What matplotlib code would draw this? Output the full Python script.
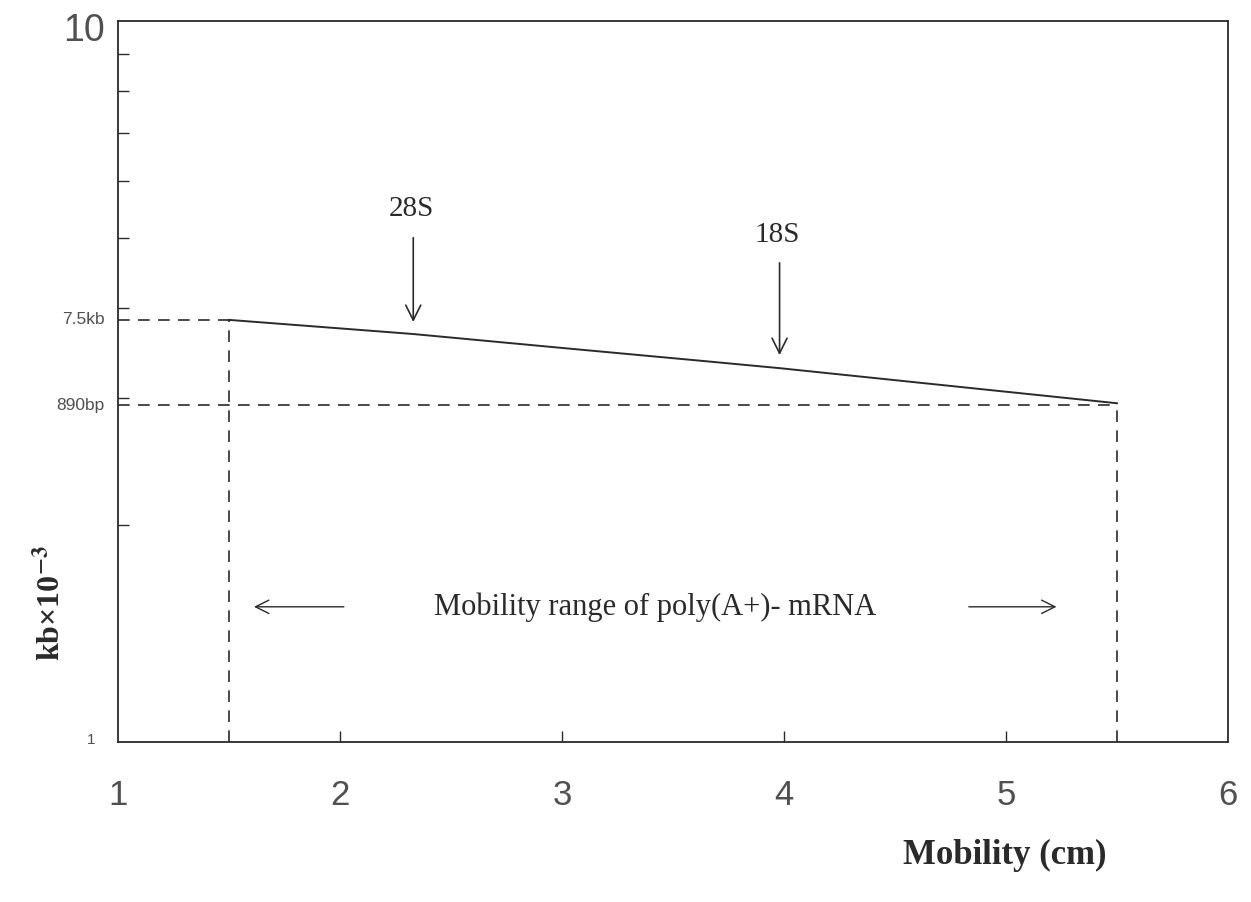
import matplotlib
matplotlib.use("Agg")
import matplotlib.pyplot as plt
from matplotlib.ticker import FixedLocator, NullFormatter, NullLocator

plt.rcParams["mathtext.fontset"] = "stix"

# Data
curve_x = [1.5, 2.33, 3.0, 3.62, 3.98, 5.5]
curve_y = [3.85, 3.68, 3.52, 3.38, 3.30, 2.95]
upper_ref = 3.85   # 7.5kb
lower_ref = 2.93   # 890bp
range_x = [1.5, 5.5]
marker_labels = ["28S", "18S"]
marker_x = [2.33, 3.98]
marker_tip_y = [3.79, 3.41]
marker_tail_y = [5.05, 4.66]
x_ticklabels = ["1", "2", "3", "4", "5", "6"]

ink = "#2a2a2a"
serif = ["Liberation Serif", "DejaVu Serif"]
sans = ["Liberation Sans", "DejaVu Sans"]

fig = plt.figure(figsize=(12.51, 9.02), dpi=100)
ax = fig.add_axes([118/1251, 1-742/902, (1228-118)/1251, (742-21)/902])
ax.set_yscale("log")
ax.set_xlim(1, 6)
ax.set_ylim(1, 10)

for s in ax.spines.values():
    s.set_color(ink)
    s.set_linewidth(1.3)

# ticks
ax.xaxis.set_major_locator(FixedLocator([2, 3, 4, 5]))
ax.xaxis.set_minor_locator(NullLocator())
ax.xaxis.set_major_formatter(NullFormatter())
ax.tick_params(axis="x", which="major", direction="in", length=8, width=1, color=ink)
ax.yaxis.set_major_locator(FixedLocator([2, 3, 4, 5, 6, 7, 8, 9]))
ax.yaxis.set_minor_locator(NullLocator())
ax.yaxis.set_major_formatter(NullFormatter())
ax.tick_params(axis="y", which="major", direction="in", length=8, width=1, color=ink)

# x tick labels as text
for lab in x_ticklabels:
    ax.text(float(lab), -0.052, lab, transform=ax.get_xaxis_transform(),
            ha="center", va="top", fontsize=25, family=sans, color="#505050",
            clip_on=False)
# y end labels
ax.text(-0.012, 9.7, "10", transform=ax.get_yaxis_transform(), ha="right", va="center",
        fontsize=27, family=sans, color="#505050", clip_on=False)
ax.text(-0.02, 1.005, "1", transform=ax.get_yaxis_transform(), ha="right", va="center",
        fontsize=11, family=sans, color="#505050", clip_on=False)
ax.text(-0.012, upper_ref, "7.5kb", transform=ax.get_yaxis_transform(), ha="right",
        va="center", fontsize=12.5, family=sans, color="#505050", clip_on=False)
ax.text(-0.012, lower_ref, "890bp", transform=ax.get_yaxis_transform(), ha="right",
        va="center", fontsize=12.5, family=sans, color="#505050", clip_on=False)

# main curve
ax.plot(curve_x, curve_y, color=ink, lw=1.4)

# dashed reference lines
dash = (0, (7, 5))
ax.plot([1, range_x[0]], [upper_ref, upper_ref], color=ink, lw=1.2, linestyle=dash)
ax.plot([1, range_x[1]], [lower_ref, lower_ref], color=ink, lw=1.2, linestyle=dash)
ax.plot([range_x[0], range_x[0]], [1, upper_ref], color=ink, lw=1.2, linestyle=dash)
ax.plot([range_x[1], range_x[1]], [1, lower_ref], color=ink, lw=1.2, linestyle=dash)

# marker arrows
for lab, mx, tip, tail in zip(marker_labels, marker_x, marker_tip_y, marker_tail_y):
    ax.annotate("", xy=(mx, tip), xytext=(mx, tail),
                arrowprops=dict(arrowstyle="->", color=ink, lw=1.2,
                                mutation_scale=27))
    ax.text(mx - 0.01, tail * 1.085, lab, ha="center", va="center", fontsize=21,
            family=serif, color=ink)

# mobility range annotation
ax.text(3.42, 1.54, "Mobility range of poly(A+)- mRNA", ha="center", va="center",
        fontsize=22, family=serif, color=ink)
ax.annotate("", xy=(1.6, 1.54), xytext=(2.03, 1.54),
            arrowprops=dict(arrowstyle="->", color=ink, lw=1.0, mutation_scale=24))
ax.annotate("", xy=(5.24, 1.54), xytext=(4.82, 1.54),
            arrowprops=dict(arrowstyle="->", color=ink, lw=1.0, mutation_scale=24))

# axis labels
fig.text(1005/1251, 1-855/902, "Mobility (cm)", ha="center", va="center",
         fontsize=25, fontweight="bold", family=serif, color=ink)
fig.text(50/1251, 1-603/902, r"kb×10$^{\mathbf{-3}}$", ha="center", va="center",
         rotation=90, fontsize=23, fontweight="bold", family=serif, color=ink)

fig.savefig("out.png", dpi=100)
